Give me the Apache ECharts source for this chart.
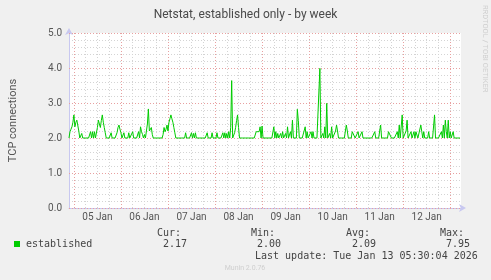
<!DOCTYPE html>
<html>
<head>
<meta charset="utf-8">
<script src="https://cdn.jsdelivr.net/npm/echarts@6/dist/echarts.min.js"></script>
<style>
html,body{margin:0;padding:0;background:#f0f0f0;}
#chart{width:491px;height:280px;}
</style>
</head>
<body>
<div id="chart"></div>
<script>
// ---- data ----
const titleText = 'Netstat, established only - by week';
const yAxisName = 'TCP connections';
const startTime = '2026-01-04T21:30:00Z';   // first 30-minute sample
const endTime = '2026-01-13T05:30:00Z';     // right edge of plot
const stepMinutes = 30;
const dayLabels = ['05 Jan', '06 Jan', '07 Jan', '08 Jan', '09 Jan', '10 Jan', '11 Jan', '12 Jan'];
const yTicks = [0, 1, 2, 3, 4, 5];
const seriesName = 'established';
const statHeaders = ['Cur:', 'Min:', 'Avg:', 'Max:'];
const statValues = ['2.17', '2.00', '2.09', '7.95'];
const lastUpdate = 'Last update: Tue Jan 13 05:30:04 2026';
const footer = 'Munin 2.0.76';
const sideText = 'RRDTOOL / TOBI OETIKER';

// established connections, one value per 30 minutes (400 samples)
const established = [
  2.00,2.18,2.25,2.32,2.45,2.66,2.32,2.45,2.51,2.51,2.20,2.00,2.00,2.13,2.00,2.00,2.00,2.00,2.00,2.00,
  2.00,2.00,2.18,2.00,2.18,2.00,2.18,2.00,2.00,2.30,2.51,2.40,2.30,2.50,2.66,2.45,2.30,2.15,2.00,2.00,
  2.00,2.00,2.00,2.15,2.00,2.00,2.00,2.00,2.00,2.15,2.30,2.37,2.25,2.15,2.00,2.00,2.15,2.00,2.00,2.00,
  2.00,2.15,2.00,2.00,2.00,2.18,2.00,2.00,2.00,2.00,2.00,2.18,2.00,2.32,2.18,2.10,2.00,2.10,2.00,2.00,
  2.40,2.83,2.20,2.15,2.30,2.10,2.00,2.00,2.00,2.00,2.00,2.00,2.00,2.00,2.00,2.00,2.10,2.30,2.18,2.25,
  2.37,2.20,2.45,2.55,2.66,2.55,2.45,2.30,2.15,2.00,2.00,2.00,2.00,2.00,2.00,2.00,2.00,2.00,2.00,2.15,
  2.00,2.00,2.00,2.00,2.00,2.15,2.00,2.13,2.00,2.15,2.00,2.00,2.00,2.00,2.00,2.00,2.00,2.00,2.00,2.00,
  2.00,2.15,2.00,2.00,2.00,2.00,2.15,2.00,2.00,2.00,2.00,2.15,2.00,2.00,2.00,2.00,2.00,2.15,2.00,2.15,
  2.00,2.13,2.00,2.18,2.00,2.30,3.64,2.00,2.00,2.15,2.30,2.50,2.66,2.30,2.00,2.00,2.00,2.00,2.00,2.00,
  2.00,2.00,2.00,2.00,2.00,2.00,2.00,2.00,2.00,2.00,2.00,2.18,2.18,2.20,2.18,2.32,2.00,2.34,2.00,2.00,
  2.00,2.00,2.00,2.00,2.00,2.00,2.00,2.00,2.00,2.32,2.00,2.18,2.00,2.13,2.00,2.00,2.13,2.00,2.18,2.00,
  2.00,2.13,2.00,2.32,2.00,2.00,2.18,2.00,2.51,2.00,2.00,2.00,2.00,2.82,2.50,2.00,2.00,2.00,2.00,2.00,
  2.00,2.32,2.00,2.18,2.00,2.00,2.00,2.18,2.00,2.18,2.00,2.00,2.00,2.00,2.00,2.00,3.99,2.00,2.00,2.13,
  2.00,2.32,2.00,2.99,2.00,2.00,2.13,2.00,2.32,2.00,2.00,2.00,2.20,2.37,2.20,2.00,2.00,2.00,2.00,2.00,
  2.00,2.00,2.20,2.37,2.20,2.00,2.00,2.00,2.00,2.18,2.18,2.18,2.00,2.00,2.00,2.18,2.00,2.00,2.00,2.18,
  2.00,2.00,2.00,2.00,2.00,2.00,2.00,2.00,2.00,2.00,2.00,2.00,2.18,2.00,2.00,2.00,2.00,2.20,2.37,2.00,
  2.00,2.00,2.00,2.00,2.00,2.00,2.18,2.18,2.18,2.00,2.00,2.00,2.00,2.00,2.00,2.18,2.00,2.37,2.00,2.00,
  2.66,2.00,2.00,2.00,2.20,2.51,2.00,2.00,2.00,2.18,2.00,2.00,2.18,2.00,2.18,2.18,2.00,2.00,2.00,2.37,
  2.18,2.00,2.18,2.00,2.00,2.00,2.00,2.18,2.00,2.00,2.00,2.00,2.00,2.66,2.00,2.00,2.00,2.00,2.00,2.00,
  2.18,2.00,2.37,2.00,2.51,2.18,2.00,2.51,2.00,2.18,2.00,2.00,2.18,2.00,2.00,2.00,2.00,2.00,2.00,2.00
];

// ---- build time slots ----
const startMs = Date.parse(startTime);
const endMs = Date.parse(endTime);
const stepMs = stepMinutes * 60000;
const slotCount = Math.round((endMs - startMs) / stepMs) + 1;
const slots = [];
for (let i = 0; i < slotCount; i++) slots.push(startMs + i * stepMs);
const categories = slots.map(t => new Date(t).toISOString().slice(0, 16));
const lineData = slots.map((t, i) => (i < established.length ? established[i] : null));
const hourOf = i => new Date(slots[i]).getUTCHours();
const minOf = i => new Date(slots[i]).getUTCMinutes();
const isNoon = i => hourOf(i) === 12 && minOf(i) === 0;
const isMidnight = i => hourOf(i) === 0 && minOf(i) === 0;
const isSixHour = i => minOf(i) === 0 && hourOf(i) % 6 === 0;
const firstNoon = slots.findIndex((t, i) => isNoon(i));

const SANS = 'Roboto, "Liberation Sans", sans-serif';
const MONO = '"DejaVu Sans Mono", monospace';
const axisBlue = '#c8c8f0';
const minorGrid = '#d4d4d4';
const majorGrid = '#e8a0a0';

const chart = echarts.init(document.getElementById('chart'), null, {renderer: 'canvas'});

const graphics = [
  {type: 'text', x: 485, y: 5, rotation: -Math.PI / 2,
   style: {text: sideText, fill: '#cfcfcf', font: '7.5px ' + SANS, textVerticalAlign: 'middle'}},
  {type: 'rect', shape: {x: 14, y: 241, width: 6, height: 6}, style: {fill: '#00cc00'}},
  {type: 'text', x: 26, y: 244, style: {text: seriesName, fill: '#444', font: '10px ' + MONO, textVerticalAlign: 'middle'}},
  {type: 'text', x: 255, y: 256, style: {text: lastUpdate, fill: '#444', font: '10px ' + MONO, textVerticalAlign: 'middle'}},
  {type: 'text', x: 245, y: 268.5, style: {text: footer, fill: '#cfcfcf', font: '7px ' + SANS, textAlign: 'center', textVerticalAlign: 'middle'}}
];
const headerX = [157, 251, 346, 440];
const valueX = [163, 257, 352, 446];
statHeaders.forEach((h, k) => {
  graphics.push({type: 'text', x: headerX[k], y: 233.5, style: {text: h, fill: '#444', font: '10px ' + MONO, textVerticalAlign: 'middle'}});
  graphics.push({type: 'text', x: valueX[k], y: 244.5, style: {text: statValues[k], fill: '#444', font: '10px ' + MONO, textVerticalAlign: 'middle'}});
});

chart.setOption({
  animation: false,
  backgroundColor: '#f0f0f0',
  title: {
    text: titleText, left: 'center', top: 4,
    textStyle: {fontFamily: SANS, fontSize: 12, fontWeight: 'normal', color: '#4a4a4a'}
  },
  grid: {left: 61, right: 30, top: 33, bottom: 72, show: true, backgroundColor: '#ffffff', borderWidth: 0},
  xAxis: [
    {
      type: 'category', data: categories, boundaryGap: false,
      axisLine: {show: true, lineStyle: {color: axisBlue, width: 1}, symbol: ['none', 'arrow'], symbolSize: [6, 7], symbolOffset: [0, 5]},
      axisTick: {show: false},
      axisLabel: {
        interval: (idx) => isNoon(idx), margin: 4,
        formatter: (v, idx) => dayLabels[Math.round((idx - firstNoon) / 48)] || '',
        color: '#555', fontFamily: SANS, fontSize: 10
      },
      splitLine: {show: true, interval: (idx) => isSixHour(idx), lineStyle: {color: minorGrid, type: [1, 2], width: 1}}
    },
    {
      type: 'category', data: categories, boundaryGap: false, position: 'bottom', z: 3,
      axisLine: {show: false}, axisTick: {show: false}, axisLabel: {show: false},
      splitLine: {show: true, interval: (idx) => isMidnight(idx), lineStyle: {color: majorGrid, type: [1, 2], width: 1}}
    }
  ],
  yAxis: [
    {
      type: 'value', min: yTicks[0], max: yTicks[yTicks.length - 1], interval: 0.2,
      name: yAxisName, nameLocation: 'middle', nameGap: 50, nameRotate: 90,
      nameTextStyle: {fontFamily: SANS, fontSize: 11, color: '#555'},
      axisLine: {show: true, lineStyle: {color: axisBlue, width: 1}, symbol: ['none', 'arrow'], symbolSize: [6, 7], symbolOffset: [0, 5]},
      axisTick: {show: false},
      axisLabel: {
        margin: 7, color: '#555', fontFamily: SANS, fontSize: 10,
        formatter: v => (yTicks.some(t => Math.abs(t - v) < 1e-6) ? v.toFixed(1) : '')
      },
      splitLine: {show: true, lineStyle: {color: minorGrid, type: [1, 2], width: 1}}
    },
    {
      type: 'value', min: yTicks[0], max: yTicks[yTicks.length - 1], interval: 1, position: 'left', z: 3,
      axisLine: {show: false}, axisTick: {show: false}, axisLabel: {show: false},
      splitLine: {show: true, lineStyle: {color: majorGrid, type: [1, 2], width: 1}}
    }
  ],
  series: [{
    name: seriesName, type: 'line', xAxisIndex: 0, yAxisIndex: 0,
    data: lineData, showSymbol: false, symbol: 'none', z: 5,
    lineStyle: {color: '#00cc00', width: 1}, itemStyle: {color: '#00cc00'}
  }],
  graphic: graphics
});
</script>
</body>
</html>
